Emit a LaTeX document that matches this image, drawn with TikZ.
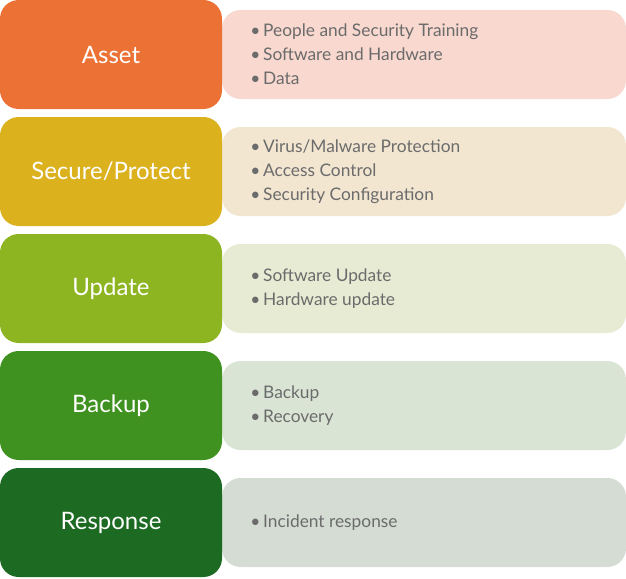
\documentclass[tikz,border=0pt]{standalone}
\usepackage{fontspec}
\setmainfont{Lato}
\definecolor{cA}{HTML}{EB7234}\definecolor{lA}{HTML}{F8D8CF}
\definecolor{cB}{HTML}{DBB11E}\definecolor{lB}{HTML}{F2E6D1}
\definecolor{cC}{HTML}{8DB421}\definecolor{lC}{HTML}{E8EBD3}
\definecolor{cD}{HTML}{3F921F}\definecolor{lD}{HTML}{D9E4D4}
\definecolor{cE}{HTML}{1D6A22}\definecolor{lE}{HTML}{D4DCD4}
\definecolor{txt}{HTML}{6B6B6B}
\tikzset{
stage/.style={rounded corners=14pt,minimum width=222\px,minimum height=109\px,inner sep=0pt,text=white,font=\fontsize{18}{20}\selectfont},
detail/.style={rounded corners=14pt,minimum width=404\px,minimum height=89\px,inner sep=0pt},
items/.style={text=txt,font=\fontsize{13}{18}\selectfont,align=left,anchor=west,inner sep=0pt}
}
\newlength{\px}\setlength{\px}{0.75pt}
\newcommand{\bl}{\textbullet\,}
\begin{document}
\begin{tikzpicture}[x=\px,y=-\px]
\useasboundingbox (0,0) rectangle (626,579);
\foreach \i/\lbl/\txt in {0/Asset/{\bl People and Security Training\\\bl Software and Hardware\\\bl Data},
1/Secure\slash Protect/{\bl Virus/Malware Protection\\\bl Access Control\\\bl Security Configuration},
2/Update/{\bl Software Update\\\bl Hardware update},
3/Backup/{\bl Backup\\\bl Recovery},
4/Response/{\bl Incident response}}{
\pgfmathsetmacro{\yc}{54.5+117*\i}
\ifcase\i\def\cc{A}\or\def\cc{B}\or\def\cc{C}\or\def\cc{D}\or\def\cc{E}\fi
\node[detail,fill=l\cc] (d\i) at (424,\yc) {};
\node[stage,fill=c\cc] (s\i) at (111,\yc) {\lbl};
\node[items] (t\i) at (250,\yc) {\txt};
}
\end{tikzpicture}
\end{document}
